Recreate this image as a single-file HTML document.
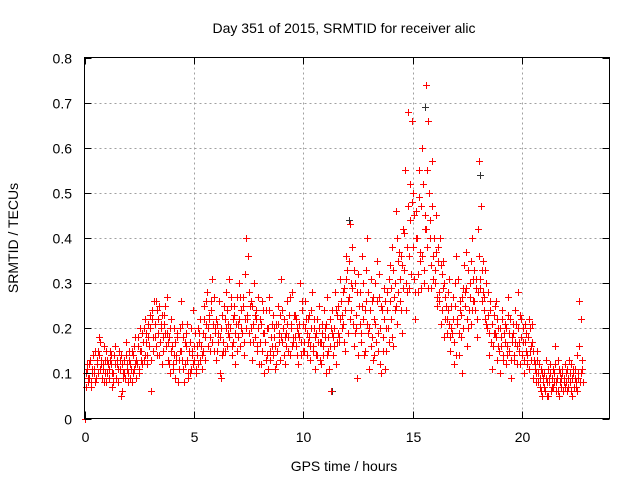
<!DOCTYPE html>
<html><head><meta charset="utf-8"><style>
body{margin:0;background:#fff}
svg{display:block;font-family:"Liberation Sans",sans-serif}
</style></head><body>
<svg id="chart" width="640" height="480" viewBox="0 0 640 480">
<text x="344" y="33" font-size="14" text-anchor="middle">Day 351 of 2015, SRMTID for receiver alic</text>
<text x="344" y="471" font-size="14" text-anchor="middle">GPS time / hours</text>
<text x="18" y="238" font-size="14" text-anchor="middle" transform="rotate(-90 18 238)">SRMTID / TECUs</text>
<g id="grid"></g>
<g id="marks"></g>
<rect x="84.5" y="57.5" width="525" height="361" fill="none" stroke="#000" stroke-width="1"/>
<g id="ticks"></g>
</svg>
<script>
const xTicks = [0, 5, 10, 15, 20];
const yTicks = [0, 0.1, 0.2, 0.3, 0.4, 0.5, 0.6, 0.7, 0.8];
const yTickLabels = ["0", "0.1", "0.2", "0.3", "0.4", "0.5", "0.6", "0.7", "0.8"];
const stepHours = 0.2;
const subOffsets = [0, 0.05, 0.1, 0.15];
const subOffsets2 = [0.025, 0.075, 0.125, 0.175];
const redValues = [
[0.00,0.10,0.12,0.08],[0.09,0.13,0.07,0.11],[0.14,0.10,0.08,0.12],[0.15,0.18,0.11,0.13],[0.09,0.12,0.16,0.10],
[0.08,0.13,0.11,0.15],[0.12,0.07,0.10,0.14],[0.16,0.09,0.12,0.08],[0.11,0.14,0.06,0.10],[0.13,0.09,0.17,0.12],
[0.10,0.15,0.12,0.08],[0.14,0.11,0.18,0.13],[0.12,0.16,0.10,0.20],[0.15,0.19,0.13,0.22],[0.17,0.12,0.21,0.16],
[0.20,0.06,0.24,0.15],[0.18,0.26,0.14,0.22],[0.25,0.17,0.21,0.12],[0.15,0.23,0.19,0.27],[0.13,0.18,0.10,0.22],
[0.16,0.12,0.20,0.09],[0.14,0.19,0.11,0.15],[0.26,0.13,0.18,0.08],[0.12,0.16,0.21,0.10],[0.17,0.11,0.14,0.24],
[0.13,0.19,0.10,0.16],[0.12,0.17,0.22,0.14],[0.19,0.25,0.13,0.21],[0.28,0.16,0.22,0.18],[0.24,0.31,0.15,0.20],
[0.13,0.21,0.17,0.26],[0.18,0.09,0.23,0.15],[0.22,0.28,0.16,0.19],[0.31,0.20,0.25,0.14],[0.17,0.23,0.12,0.27],
[0.21,0.30,0.16,0.24],[0.19,0.25,0.14,0.32],[0.40,0.22,0.28,0.17],[0.26,0.13,0.21,0.30],[0.18,0.24,0.15,0.27],
[0.22,0.12,0.26,0.19],[0.10,0.17,0.24,0.14],[0.20,0.27,0.13,0.16],[0.23,0.18,0.11,0.21],[0.15,0.25,0.19,0.13],
[0.31,0.17,0.22,0.12],[0.19,0.26,0.15,0.23],[0.14,0.21,0.28,0.17],[0.23,0.16,0.20,0.12],[0.18,0.30,0.14,0.24],
[0.21,0.15,0.26,0.19],[0.17,0.23,0.13,0.20],[0.28,0.16,0.22,0.11],[0.19,0.14,0.25,0.17],[0.12,0.21,0.16,0.24],
[0.18,0.10,0.27,0.15],[0.22,0.06,0.19,0.14],[0.16,0.28,0.12,0.23],[0.25,0.18,0.31,0.20],[0.21,0.29,0.15,0.36],
[0.33,0.19,0.27,0.43],[0.24,0.38,0.16,0.30],[0.20,0.09,0.32,0.25],[0.28,0.17,0.36,0.22],[0.15,0.26,0.40,0.19],
[0.11,0.24,0.31,0.18],[0.27,0.14,0.21,0.35],[0.19,0.32,0.12,0.25],[0.24,0.15,0.29,0.11],[0.20,0.28,0.17,0.34],
[0.22,0.38,0.16,0.27],[0.30,0.46,0.21,0.35],[0.26,0.36,0.19,0.42],[0.33,0.55,0.24,0.38],[0.68,0.29,0.44,0.66],
[0.50,0.31,0.22,0.46],[0.40,0.28,0.55,0.35],[0.47,0.60,0.30,0.42],[0.74,0.38,0.66,0.50],[0.44,0.29,0.57,0.36],
[0.33,0.45,0.25,0.38],[0.28,0.40,0.21,0.32],[0.35,0.18,0.27,0.22],[0.24,0.31,0.15,0.20],[0.19,0.27,0.12,0.30],
[0.36,0.22,0.14,0.26],[0.18,0.10,0.29,0.34],[0.25,0.37,0.16,0.20],[0.30,0.21,0.40,0.26],[0.33,0.24,0.29,0.18],
[0.42,0.57,0.31,0.26],[0.35,0.27,0.22,0.30],[0.20,0.28,0.14,0.24],[0.17,0.11,0.23,0.19],[0.26,0.13,0.20,0.15],
[0.10,0.18,0.24,0.14],[0.21,0.12,0.16,0.27],[0.15,0.22,0.09,0.18],[0.19,0.13,0.24,0.16],[0.28,0.17,0.12,0.22],
[0.14,0.20,0.10,0.17],[0.19,0.12,0.22,0.15],[0.16,0.21,0.09,0.13],[0.12,0.08,0.15,0.10],[0.07,0.11,0.05,0.09],
[0.10,0.06,0.13,0.08],[0.05,0.09,0.12,0.07],[0.11,0.08,0.16,0.06],[0.09,0.13,0.05,0.10],[0.07,0.11,0.08,0.12],
[0.10,0.06,0.09,0.13],[0.08,0.12,0.05,0.11],[0.09,0.07,0.14,0.10],[0.26,0.08,0.22,0.11]
];
const redValues2 = [
[0.00,0.07,0.11,0.09],[0.12,0.08,0.10,0.14],[0.11,0.15,0.09,0.13],[0.10,0.14,0.17,0.12],[0.11,0.08,0.13,0.15],
[0.10,0.12,0.09,0.13],[0.14,0.10,0.08,0.12],[0.09,0.13,0.11,0.15],[0.13,0.05,0.12,0.09],[0.10,0.14,0.11,0.08],
[0.13,0.09,0.11,0.15],[0.10,0.16,0.12,0.09],[0.18,0.11,0.15,0.13],[0.12,0.17,0.20,0.14],[0.19,0.14,0.18,0.23],
[0.13,0.22,0.18,0.26],[0.21,0.16,0.24,0.19],[0.14,0.20,0.23,0.18],[0.21,0.25,0.16,0.19],[0.17,0.12,0.20,0.15],
[0.11,0.14,0.17,0.13],[0.18,0.08,0.13,0.20],[0.15,0.21,0.11,0.17],[0.19,0.13,0.09,0.15],[0.10,0.20,0.15,0.12],
[0.16,0.11,0.14,0.20],[0.19,0.13,0.16,0.11],[0.15,0.22,0.18,0.26],[0.20,0.23,0.15,0.26],[0.17,0.21,0.27,0.19],
[0.22,0.15,0.19,0.10],[0.20,0.14,0.17,0.25],[0.15,0.20,0.24,0.21],[0.18,0.27,0.16,0.22],[0.25,0.19,0.21,0.15],
[0.18,0.22,0.27,0.20],[0.27,0.17,0.22,0.20],[0.23,0.36,0.19,0.25],[0.20,0.25,0.17,0.23],[0.22,0.16,0.20,0.12],
[0.17,0.21,0.15,0.24],[0.19,0.13,0.20,0.11],[0.24,0.15,0.18,0.21],[0.14,0.20,0.16,0.12],[0.21,0.17,0.23,0.18],
[0.24,0.20,0.14,0.18],[0.16,0.21,0.18,0.27],[0.20,0.16,0.18,0.23],[0.18,0.22,0.14,0.19],[0.21,0.17,0.26,0.15],
[0.17,0.20,0.22,0.14],[0.22,0.18,0.16,0.24],[0.15,0.20,0.18,0.14],[0.22,0.17,0.20,0.13],[0.17,0.19,0.14,0.20],
[0.21,0.14,0.18,0.11],[0.16,0.20,0.24,0.18],[0.20,0.24,0.17,0.19],[0.17,0.22,0.26,0.23],[0.28,0.17,0.24,0.31],
[0.26,0.35,0.22,0.30],[0.29,0.21,0.33,0.19],[0.23,0.28,0.14,0.21],[0.19,0.25,0.30,0.14],[0.24,0.33,0.21,0.28],
[0.20,0.16,0.26,0.13],[0.22,0.30,0.17,0.26],[0.15,0.27,0.20,0.10],[0.18,0.22,0.26,0.15],[0.24,0.20,0.31,0.26],
[0.29,0.18,0.33,0.24],[0.25,0.40,0.28,0.37],[0.31,0.24,0.34,0.29],[0.41,0.30,0.28,0.47],[0.36,0.52,0.32,0.48],
[0.38,0.45,0.28,0.40],[0.32,0.49,0.37,0.29],[0.36,0.52,0.33,0.45],[0.42,0.55,0.29,0.40],[0.34,0.47,0.31,0.40],
[0.30,0.37,0.27,0.35],[0.26,0.34,0.24,0.29],[0.30,0.22,0.25,0.19],[0.28,0.21,0.18,0.25],[0.22,0.17,0.25,0.14],
[0.21,0.31,0.19,0.24],[0.23,0.27,0.20,0.28],[0.29,0.22,0.33,0.24],[0.27,0.35,0.24,0.31],[0.26,0.31,0.22,0.28],
[0.36,0.29,0.47,0.33],[0.28,0.24,0.33,0.21],[0.23,0.19,0.26,0.17],[0.21,0.16,0.19,0.25],[0.18,0.22,0.16,0.20],
[0.16,0.22,0.13,0.19],[0.17,0.20,0.14,0.23],[0.19,0.13,0.17,0.21],[0.14,0.17,0.21,0.12],[0.20,0.15,0.23,0.18],
[0.17,0.13,0.21,0.15],[0.14,0.18,0.11,0.20],[0.13,0.17,0.15,0.11],[0.10,0.13,0.08,0.12],[0.09,0.06,0.10,0.08],
[0.07,0.09,0.05,0.11],[0.08,0.10,0.06,0.09],[0.07,0.10,0.12,0.08],[0.06,0.11,0.08,0.09],[0.10,0.06,0.09,0.07],
[0.08,0.11,0.07,0.10],[0.06,0.09,0.10,0.07],[0.11,0.08,0.06,0.09],[0.16,0.10,0.13,0.08]
];
const blackTimes = [15.55, 12.1, 18.1, 11.3];
const blackValues = [0.69, 0.44, 0.54, 0.06];

const X0=84.5, X1=609.5, Y0=418.5, Y1=57.5, XMAX=24, YMAX=0.8;
const sx = t => X0 + (t/XMAX)*(X1-X0);
const sy = v => Y0 - (v/YMAX)*(Y0-Y1);
const NS="http://www.w3.org/2000/svg";
function mk(tag, attrs, parent){const e=document.createElementNS(NS,tag);for(const k in attrs)e.setAttribute(k,attrs[k]);parent.appendChild(e);return e;}
const grid=document.getElementById('grid'), ticks=document.getElementById('ticks'), marks=document.getElementById('marks');
xTicks.forEach(t=>{
  const x=Math.round(sx(t))+0.5;
  if(t>0){const g=mk('line',{x1:x,x2:x,y1:Y1,y2:Y0,stroke:'#a0a0a0','stroke-dasharray':'2,3'},grid);
  
  }
  mk('line',{x1:x,x2:x,y1:Y0,y2:Y0-7,stroke:'#000'},ticks);
  mk('line',{x1:x,x2:x,y1:Y1,y2:Y1+7,stroke:'#000'},ticks);
  const l=mk('text',{x:x,y:442,'font-size':14,'text-anchor':'middle'},ticks);l.textContent=t;
  
  
});
yTicks.forEach((v,i)=>{
  const y=Math.round(sy(v))+0.5;
  if(v>0&&v<YMAX){const g=mk('line',{x1:X0,x2:X1,y1:y,y2:y,stroke:'#a0a0a0','stroke-dasharray':'2,3'},grid);
  
  }
  mk('line',{x1:X0,x2:X0+7,y1:y,y2:y,stroke:'#000'},ticks);
  mk('line',{x1:X1,x2:X1-7,y1:y,y2:y,stroke:'#000'},ticks);
  const l=mk('text',{x:72,y:y+5,'font-size':14,'text-anchor':'end'},ticks);l.textContent=yTickLabels[i];
  
  
});
function plus(t,v,color,name){
  const x=Math.round(sx(t))+0.5, y=Math.round(sy(v))+0.5;
  const p=mk('path',{d:`M${x-3.5} ${y}H${x+3.5}M${x} ${y-3.5}V${y+3.5}`,stroke:color,'stroke-width':1.1,fill:'none','shape-rendering':'crispEdges'},marks);
  
  
}
blackTimes.forEach((t,i)=>plus(t,blackValues[i],'#333','black-point'));
redValues.forEach((row,i)=>row.forEach((v,k)=>plus(i*stepHours+subOffsets[k],v,'#ff0000','red-point')));
redValues2.forEach((row,i)=>row.forEach((v,k)=>plus(i*stepHours+subOffsets2[k],v,'#ff0000','red-point')));
</script>
</body></html>
